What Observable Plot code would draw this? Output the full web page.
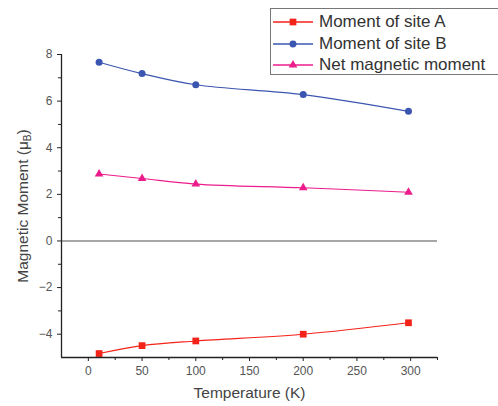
<!DOCTYPE html>
<html>
<head>
<meta charset="utf-8">
<script src="https://cdn.jsdelivr.net/npm/d3@7"></script>
<script src="https://cdn.jsdelivr.net/npm/@observablehq/plot@0.6"></script>
<style>
  html, body { margin: 0; padding: 0; background: #fff; }
  #wrap { position: relative; width: 498px; height: 406px; font-family: "Liberation Sans", Arial, sans-serif; }
  #legend { position: absolute; left: 270px; top: 8px; width: 228px; height: 67px; border: 1px solid #777; border-right: none; box-sizing: border-box; background: #fff; }
  .row { position: absolute; left: 0; height: 20px; display: flex; align-items: center; }
  .row svg { display: block; }
  .row span { font-size: 17px; color: #333; margin-left: 4px; white-space: nowrap; }
</style>
</head>
<body>
<div id="wrap"></div>
<script>
// Data
const temperature = [10, 50, 100, 200, 298];
const siteA = [-4.83, -4.49, -4.29, -4.00, -3.51];
const siteB = [7.67, 7.18, 6.70, 6.28, 5.56];
const netMoment = [2.87, 2.68, 2.44, 2.28, 2.09];
const seriesNames = ["Moment of site A", "Moment of site B", "Net magnetic moment"];
const seriesColors = ["#f4231a", "#3b56b0", "#ec1c8c"];
const seriesSymbols = ["square", "circle", "triangle"];
const xTicks = [0, 50, 100, 150, 200, 250, 300];
const xMinor = [25, 75, 125, 175, 225, 275, 325];
const yTicks = [-4, -2, 0, 2, 4, 6, 8];
const yMinor = [-3, -1, 1, 3, 5, 7];

const seriesValues = [siteA, siteB, netMoment];
const data = seriesValues.flatMap((vals, i) =>
  temperature.map((t, j) => ({ series: seriesNames[i], T: t, M: vals[j] }))
);

const color = { domain: seriesNames, range: seriesColors };

const chart = Plot.plot({
  width: 498,
  height: 406,
  marginLeft: 61,
  marginRight: 61,
  marginTop: 54,
  marginBottom: 49,
  style: { fontFamily: "Liberation Sans, Arial, sans-serif", background: "#fff", overflow: "visible" },
  x: { domain: [-25, 325] },
  y: { domain: [-5, 8] },
  color,
  symbol: { domain: seriesNames, range: seriesSymbols },
  marks: [
    Plot.ruleY([0], { stroke: "#8a8a8a", strokeWidth: 1.5 }),
    Plot.line(data, { x: "T", y: "M", z: "series", stroke: "series", strokeWidth: 1.1, curve: "catmull-rom" }),
    Plot.dot(data.filter(d => d.series === seriesNames[0]), { x: "T", y: "M", symbol: "series", fill: "series", r: 3.8 }),
    Plot.dot(data.filter(d => d.series === seriesNames[1]), { x: "T", y: "M", symbol: "series", fill: "series", r: 3.5 }),
    Plot.dot(data.filter(d => d.series === seriesNames[2]), { x: "T", y: "M", symbol: "series", fill: "series", r: 3.2 }),
    Plot.axisX({ ticks: xTicks, tickSize: 4, tickPadding: 5, fontSize: 12, color: "#555", stroke: "#222",
      label: "Temperature (K)", labelAnchor: "center", labelArrow: "none", labelOffset: 40 }),
    Plot.axisX({ ticks: xMinor, tickSize: 3, tickFormat: () => "", stroke: "#222", label: null }),
    Plot.axisY({ ticks: yTicks, tickSize: 4, tickPadding: 5, fontSize: 12, color: "#555", stroke: "#222",
      label: "Magnetic Moment (μB)", labelAnchor: "center", labelArrow: "none", labelOffset: 45 }),
    Plot.axisY({ ticks: yMinor, tickSize: 3, tickFormat: () => "", stroke: "#222", label: null }),
    Plot.ruleY([-5], { stroke: "#222", strokeWidth: 1.3 }),
    Plot.ruleX([-25], { stroke: "#222", strokeWidth: 1.3 })
  ]
});

// Style axis labels and subscript
chart.querySelectorAll("text").forEach(t => {
  const s = t.textContent;
  if (s === "Temperature (K)" || s === "Magnetic Moment (μB)") {
    t.setAttribute("font-size", "15.5");
    t.setAttribute("fill", "#444");
    t.style.fontSize = "15.5px";
    if (s === "Magnetic Moment (μB)") {
      t.textContent = "";
      const ns = "http://www.w3.org/2000/svg";
      const a = document.createElementNS(ns, "tspan"); a.textContent = "Magnetic Moment (μ";
      const b = document.createElementNS(ns, "tspan"); b.textContent = "B"; b.setAttribute("font-size", "10"); b.setAttribute("dy", "3");
      const c = document.createElementNS(ns, "tspan"); c.textContent = ")"; c.setAttribute("dy", "-3");
      t.append(a, b, c);
    }
  }
});

const wrap = document.getElementById("wrap");
wrap.appendChild(chart);

// Legend
const legend = document.createElement("div");
legend.id = "legend";
seriesNames.forEach((name, i) => {
  const row = document.createElement("div");
  row.className = "row";
  row.style.top = (3 + i * 21.5) + "px";
  const sym = d3.create("svg").attr("width", 44).attr("height", 20);
  sym.append("line").attr("x1", 2).attr("x2", 42).attr("y1", 10).attr("y2", 10)
    .attr("stroke", seriesColors[i]).attr("stroke-width", 1.5);
  const size = [45, 38, 32][i];
  const symType = [d3.symbolSquare, d3.symbolCircle, d3.symbolTriangle][i];
  sym.append("path").attr("d", d3.symbol(symType, size)()).attr("transform", "translate(22,10)")
    .attr("fill", seriesColors[i]);
  row.appendChild(sym.node());
  const label = document.createElement("span");
  label.textContent = name;
  row.appendChild(label);
  legend.appendChild(row);
});
wrap.appendChild(legend);
</script>
</body>
</html>
